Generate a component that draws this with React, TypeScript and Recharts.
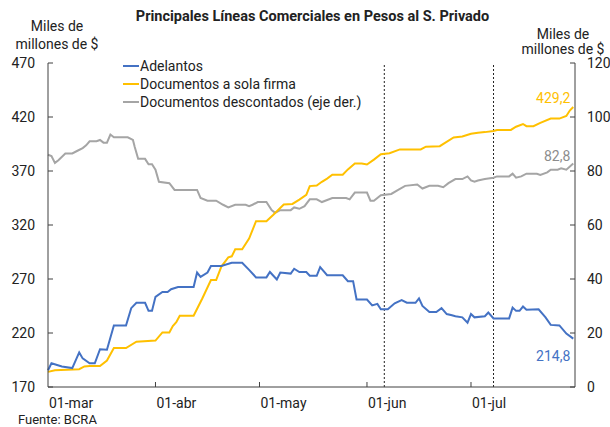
import React from 'react';
import { LineChart, Line, XAxis, YAxis, ReferenceLine, LabelList } from 'recharts';

// days counted from 01-mar
const monthTicks = [0, 31, 61, 92, 122];
const monthLabels = ['01-mar', '01-abr', '01-may', '01-jun', '01-jul'];
const leftTicks = [170, 220, 270, 320, 370, 420, 470];
const rightTicks = [0, 20, 40, 60, 80, 100, 120];
const markerDays = [97, 128.5];

const adelantosDays = [0, 1, 4, 7, 9, 10, 12, 13.5, 15, 17, 19, 22.5, 24, 25.5, 28, 29, 30, 31, 33, 34.5, 35.5, 37.5, 42, 43, 44, 46, 47, 50, 53, 56, 58, 60, 63, 64, 66, 67, 70, 71, 72.5, 74.5, 75.5, 77.5, 78.5, 80.5, 85, 86.5, 88, 89, 92, 93.5, 95, 96, 98, 100, 102, 103.5, 106, 107, 108, 110, 112, 113.5, 115, 116.5, 117.5, 119.5, 121, 122, 123, 126, 127, 128.5, 133, 134, 135, 136, 137, 138, 141.5, 143.5, 145, 147.5, 149.5, 151.5];
const adelantosVals = [185.5, 192, 189, 187.5, 202, 196.5, 192, 192, 205, 204.5, 227, 227, 243, 248, 248, 240.5, 240.5, 253.5, 258, 258, 260.5, 262.5, 262.5, 276, 272, 276, 282, 282, 285, 285, 278.5, 271.5, 271.5, 276.5, 269.5, 276, 275, 279.5, 276.5, 276.5, 273, 273, 281, 273.5, 273.5, 268, 268, 251, 251, 245.5, 247, 242, 242, 247.5, 250.5, 248, 248, 252, 245, 239.5, 239.5, 243, 237.5, 236.5, 235.5, 234.5, 229.5, 237.5, 234.5, 235.5, 239, 233.5, 233.5, 243.5, 240.5, 240.5, 244.5, 241.5, 242, 234.5, 227.5, 227, 219.5, 214.8];

const solaFirmaDays = [0, 2, 9, 10.5, 12, 15, 17, 19, 22.5, 25.5, 31, 33, 35, 36, 37, 38, 42, 44.5, 47, 48.5, 50, 52, 53, 54, 56, 58, 60, 63, 65, 68, 70.5, 72.5, 74.5, 75.5, 77.5, 79, 80.5, 82, 85, 86.5, 88.5, 90.5, 92, 94, 96, 98.5, 101.5, 107.5, 109, 113, 114.5, 117, 119.5, 122, 124, 126, 128.5, 129.5, 133.5, 135, 137, 138, 140, 142, 145, 147.5, 149.5, 150.5, 151.5];
const solaFirmaVals = [184, 185.5, 186.5, 189, 189.5, 189.5, 194.5, 206, 206, 212, 213, 220.5, 220.5, 226.5, 230, 236, 236, 252, 269, 269, 281.5, 290, 291, 297.5, 297.5, 307.5, 323.5, 323.5, 329.5, 339, 339.5, 343.5, 348, 356, 356.5, 360, 363, 366.5, 366.5, 371.5, 377, 377, 376, 380.5, 385.5, 386.5, 390, 390, 392.5, 393, 396, 401, 402, 404.5, 405.5, 406, 407, 408, 408, 411, 413.5, 411.5, 411.5, 414.5, 418.5, 418.5, 421, 426, 429.2];

const descontadosDays = [0, 1, 2, 3, 5, 7, 8.5, 10, 11, 12, 14, 15, 16, 17, 18, 19, 23, 24.5, 25, 26, 28, 29, 30, 31, 32, 35, 36.5, 43, 44, 46, 48.5, 50.5, 52, 54, 57, 58, 59, 60.5, 63, 64.5, 65.5, 67, 70, 71, 72.5, 74, 75.5, 77.5, 79, 82, 86, 87, 88.5, 92, 93, 94, 96, 99, 101, 103, 106.5, 108, 110, 112.5, 114, 115.5, 117.5, 119.5, 121, 122, 123, 124, 126, 128.5, 129.5, 133, 134, 135, 136.5, 138, 141, 142, 144, 145, 147, 148, 149.5, 151.5];
const descontadosVals = [86, 85.5, 83, 84, 86.5, 86.5, 87.5, 88.5, 89.5, 91, 91, 91.5, 90.5, 90.5, 93.5, 92.5, 92.5, 91.5, 89, 84.5, 84.5, 82.5, 82.5, 80.5, 76, 75.5, 73, 73, 70, 69, 69, 67.5, 66.5, 67.5, 67.5, 67, 67.5, 68.5, 68.5, 65.5, 64.5, 65.5, 65.5, 66.5, 66, 67, 69.5, 69.5, 68.5, 70, 70, 69.5, 72, 72, 69, 69, 71, 71.5, 73, 74.5, 75, 73.5, 74.5, 74.5, 74, 75.5, 77, 77, 78, 76.5, 76, 76.5, 77, 77.5, 78, 78, 79, 77.5, 78, 79, 79, 78.5, 79.5, 80.5, 80.5, 81, 80.5, 82.8];

const toRows = (days: number[], vals: number[]) => days.map((day, i) => ({ day, v: vals[i] }));
const adelantosData = toRows(adelantosDays, adelantosVals);
const solaFirmaData = toRows(solaFirmaDays, solaFirmaVals);
const descontadosData = toRows(descontadosDays, descontadosVals);

const BLUE = '#4472C4';
const YELLOW = '#FFC000';
const GRAY = '#A5A5A5';
const AXIS = '#404040';
const FONT = 'Roboto, sans-serif';

const fmt = (v: number) => v.toFixed(1).replace('.', ',');

const BottomTick = (p: any) => {
  const i = monthTicks.indexOf(p.payload.value);
  return (
    <g>
      {p.payload.value > 0 && <line x1={p.x} x2={p.x} y1={p.y} y2={p.y - 5} stroke={AXIS} />}
      <text x={p.x + 1} y={p.y + 21} textAnchor="start" fontSize={14} fontFamily={FONT} fill="#222">
        {monthLabels[i]}
      </text>
    </g>
  );
};

const LeftTick = (p: any) => (
  <g>
    <line x1={p.x} x2={p.x + 5} y1={p.y} y2={p.y} stroke={AXIS} />
    <text x={p.x - 13} y={p.y + 5} textAnchor="end" fontSize={14} fontFamily={FONT} fill="#222">
      {p.payload.value}
    </text>
  </g>
);

const RightTick = (p: any) => (
  <g>
    <line x1={p.x} x2={p.x - 5} y1={p.y} y2={p.y} stroke={AXIS} />
    <text x={p.x + 12} y={p.y + 5} textAnchor="start" fontSize={14} fontFamily={FONT} fill="#222">
      {p.payload.value}
    </text>
  </g>
);

const lastLabel = (count: number, color: string, dy: number) => (p: any) => {
  if (p.index !== count - 1) return null;
  return (
    <text x={p.x - 3} y={p.y + dy} textAnchor="end" fontSize={14} fontFamily={FONT} fill={color}>
      {fmt(p.value)}
    </text>
  );
};

const legendItems = [
  { name: 'Adelantos', color: BLUE },
  { name: 'Documentos a sola firma', color: YELLOW },
  { name: 'Documentos descontados (eje der.)', color: GRAY },
];

export default function App() {
  return (
    <div style={{ position: 'absolute', left: 0, top: 0, width: 610, height: 427, background: '#fff', fontFamily: FONT, color: '#222' }}>
      <LineChart width={610} height={427} margin={{ top: 63, right: 0, bottom: 0, left: 0 }}>
        <XAxis
          dataKey="day"
          type="number"
          domain={[0, 152]}
          ticks={monthTicks}
          interval={0}
          height={40}
          stroke={AXIS}
          tickLine={false}
          tickSize={0}
          tickMargin={0}
          tick={BottomTick}
        />
        <YAxis
          yAxisId="left"
          domain={[170, 470]}
          ticks={leftTicks}
          interval={0}
          width={48}
          stroke={AXIS}
          tickLine={false}
          tickSize={0}
          tickMargin={0}
          tick={LeftTick}
        />
        <YAxis
          yAxisId="right"
          orientation="right"
          domain={[0, 120]}
          ticks={rightTicks}
          interval={0}
          width={35}
          stroke={AXIS}
          tickLine={false}
          tickSize={0}
          tickMargin={0}
          tick={RightTick}
        />
        {markerDays.map((d) => (
          <ReferenceLine key={d} x={d} yAxisId="left" stroke="#222" strokeDasharray="2 2" />
        ))}
        <Line data={descontadosData} dataKey="v" yAxisId="right" stroke={GRAY} strokeWidth={2} dot={false} isAnimationActive={false}>
          <LabelList dataKey="v" content={lastLabel(descontadosData.length, '#8c8c8c', -2)} />
        </Line>
        <Line data={solaFirmaData} dataKey="v" yAxisId="left" stroke={YELLOW} strokeWidth={2} dot={false} isAnimationActive={false}>
          <LabelList dataKey="v" content={lastLabel(solaFirmaData.length, YELLOW, -4)} />
        </Line>
        <Line data={adelantosData} dataKey="v" yAxisId="left" stroke={BLUE} strokeWidth={2} dot={false} isAnimationActive={false}>
          <LabelList dataKey="v" content={lastLabel(adelantosData.length, BLUE, 22)} />
        </Line>
      </LineChart>

      <div style={{ position: 'absolute', left: 0, width: 625, top: 8, textAlign: 'center', fontWeight: 700, fontSize: 14.5 }}>
        Principales Líneas Comerciales en Pesos al S. Privado
      </div>
      <div style={{ position: 'absolute', left: 7, width: 100, top: 17, textAlign: 'center', fontSize: 14, lineHeight: '18px' }}>
        Miles de<br />millones de $
      </div>
      <div style={{ position: 'absolute', left: 513, width: 100, top: 27, textAlign: 'center', fontSize: 14, lineHeight: '15px' }}>
        Miles de<br />millones de $
      </div>
      <div style={{ position: 'absolute', left: 123, top: 57, fontSize: 14, lineHeight: '18px' }}>
        {legendItems.map((it) => (
          <div key={it.name} style={{ display: 'flex', alignItems: 'center' }}>
            <span style={{ display: 'inline-block', width: 16, height: 2, background: it.color, marginRight: 1 }} />
            <span>{it.name}</span>
          </div>
        ))}
      </div>
      <div style={{ position: 'absolute', left: 18, top: 413, fontSize: 13, lineHeight: '14px' }}>Fuente: BCRA</div>
    </div>
  );
}
